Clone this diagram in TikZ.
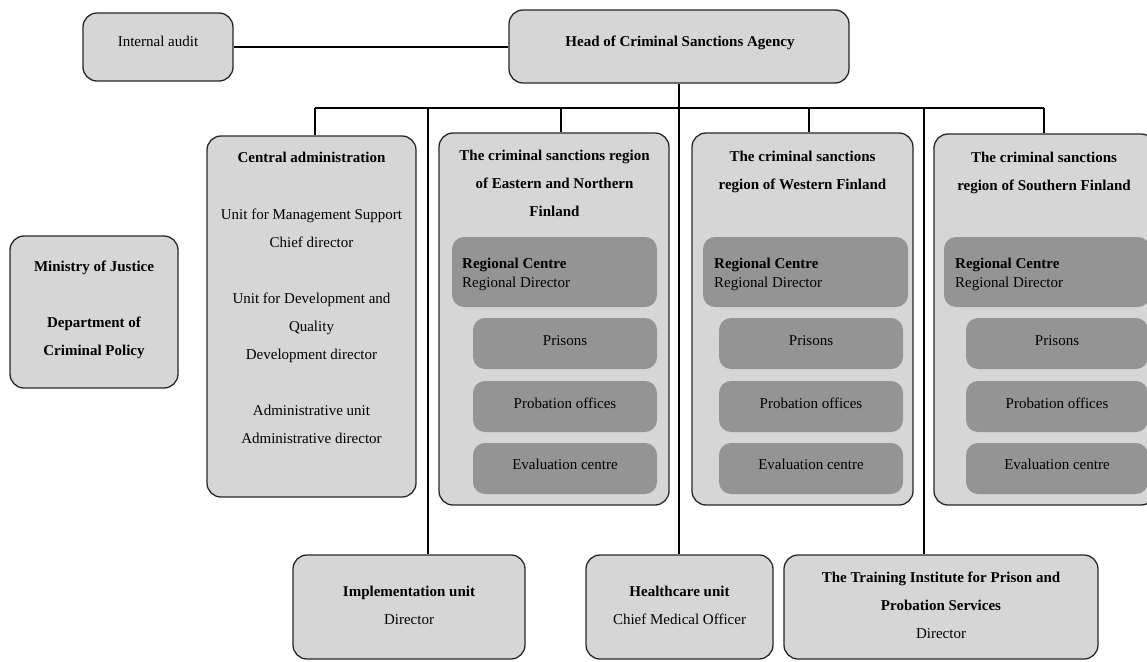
\documentclass[tikz,border=0pt]{standalone}
\usepackage{fontspec}
\setmainfont{Liberation Serif}
\usetikzlibrary{fit}
\definecolor{boxfill}{RGB}{214,214,214}
\definecolor{innerfill}{RGB}{148,148,148}
\definecolor{boxline}{RGB}{40,40,40}
\begin{document}
\begin{tikzpicture}[x=1pt,y=-1pt,
  outerbox/.style={draw=boxline, line width=1.3pt, fill=boxfill, rounded corners=14pt, inner sep=0pt},
  innerbox/.style={fill=innerfill, rounded corners=12pt, inner sep=0pt},
  conn/.style={line width=1.8pt, draw=black},
  txt/.style={font=\fontsize{15}{28}\selectfont, align=center, inner sep=0pt, anchor=base, text=black},
  txtb/.style={font=\fontsize{15}{28}\selectfont\bfseries, align=center, inner sep=0pt, anchor=base, text=black},
  txtl/.style={font=\fontsize{15}{19}\selectfont, align=left, inner sep=0pt, anchor=base west, text=black}]
\useasboundingbox (0,0) rectangle (1147,661);
\clip (0,0) rectangle (1147,661);

% outer boxes
\node[outerbox, fit={(83,13) (233,81)}] (audit) {};
\node[outerbox, fit={(509,10) (849,83)}] (head) {};
\node[outerbox, fit={(10,236) (178,388)}] (ministry) {};
\node[outerbox, fit={(207,136) (416,497)}] (central) {};
\node[outerbox, fit={(439,133) (669,505)}] (reg1) {};
\node[outerbox, fit={(692,133) (913,505)}] (reg2) {};
\node[outerbox, fit={(934,134) (1155,505)}] (reg3) {};
\node[outerbox, fit={(293,555) (525,659)}] (impl) {};
\node[outerbox, fit={(586,555) (773,659)}] (health) {};
\node[outerbox, fit={(784,555) (1098,659)}] (train) {};

% inner boxes region 1
\node[innerbox, fit={(452,237) (657,307)}] (rc1) {};
\node[innerbox, fit={(473,318) (657,369)}] (pr1) {};
\node[innerbox, fit={(473,381) (657,432)}] (po1) {};
\node[innerbox, fit={(473,443) (657,494)}] (ev1) {};
% region 2
\node[innerbox, fit={(703,237) (908,307)}] (rc2) {};
\node[innerbox, fit={(719,318) (903,369)}] (pr2) {};
\node[innerbox, fit={(719,381) (903,432)}] (po2) {};
\node[innerbox, fit={(719,443) (903,494)}] (ev2) {};
% region 3
\node[innerbox, fit={(944,237) (1150,307)}] (rc3) {};
\node[innerbox, fit={(966,318) (1148,369)}] (pr3) {};
\node[innerbox, fit={(966,381) (1148,432)}] (po3) {};
\node[innerbox, fit={(966,443) (1148,494)}] (ev3) {};

% texts (base anchor = baseline of the last line)
\node[txt] (tAudit) at (158,47) {Internal audit};
\node[txtb] (tHead) at (680,47) {Head of Criminal Sanctions Agency};
\node[txtb] (tMin) at (94,355) {Ministry of Justice\\[28pt]Department of\\Criminal Policy};
\node[txt] (tCentral) at (311.5,443) {\textbf{Central administration}\\[29pt]Unit for Management Support\\Chief director\\[28pt]Unit for Development and\\Quality\\Development director\\[28pt]Administrative unit\\Administrative director};

\node[txtb] (tReg1) at (554.5,216) {The criminal sanctions region\\of Eastern and Northern\\Finland};
\node[txtb] (tReg2) at (802.5,189) {The criminal sanctions\\region of Western Finland};
\node[txtb] (tReg3) at (1044,190) {The criminal sanctions\\region of Southern Finland};

\node[txtl] (tRc1) at (462,287) {\textbf{Regional Centre}\\Regional Director};
\node[txtl] (tRc2) at (714,287) {\textbf{Regional Centre}\\Regional Director};
\node[txtl] (tRc3) at (955,287) {\textbf{Regional Centre}\\Regional Director};

\node[txt] (tPr1) at (565,345) {Prisons};
\node[txt] (tPo1) at (565,408) {Probation offices};
\node[txt] (tEv1) at (565,469) {Evaluation centre};
\node[txt] (tPr2) at (811,345) {Prisons};
\node[txt] (tPo2) at (811,408) {Probation offices};
\node[txt] (tEv2) at (811,469) {Evaluation centre};
\node[txt] (tPr3) at (1057,345) {Prisons};
\node[txt] (tPo3) at (1057,408) {Probation offices};
\node[txt] (tEv3) at (1057,469) {Evaluation centre};

\node[txt] (tImpl) at (409,624) {\textbf{Implementation unit}\\Director};
\node[txt] (tHealth) at (679.5,624) {\textbf{Healthcare unit}\\Chief Medical Officer};
\node[txt] (tTrain) at (941,638) {\textbf{The Training Institute for Prison and}\\\textbf{Probation Services}\\Director};

% connectors
\coordinate (bL) at (315,108);
\coordinate (bImpl) at (428,108);
\coordinate (bR1) at (561,108);
\coordinate (bR2) at (809,108);
\coordinate (bTrain) at (924,108);
\coordinate (bR) at (1044,108);

\draw[conn] (audit.east) -- (audit.east -| head.west);
\draw[conn] (head.south) -- (head.south |- health.north);
\draw[conn] (bL) -- (bR);
\draw[conn] (bL) -- (bL |- central.north);
\draw[conn] (bImpl) -- (bImpl |- impl.north);
\draw[conn] (bR1) -- (bR1 |- reg1.north);
\draw[conn] (bR2) -- (bR2 |- reg2.north);
\draw[conn] (bTrain) -- (bTrain |- train.north);
\draw[conn] (bR) -- (bR |- reg3.north);
\end{tikzpicture}
\end{document}
